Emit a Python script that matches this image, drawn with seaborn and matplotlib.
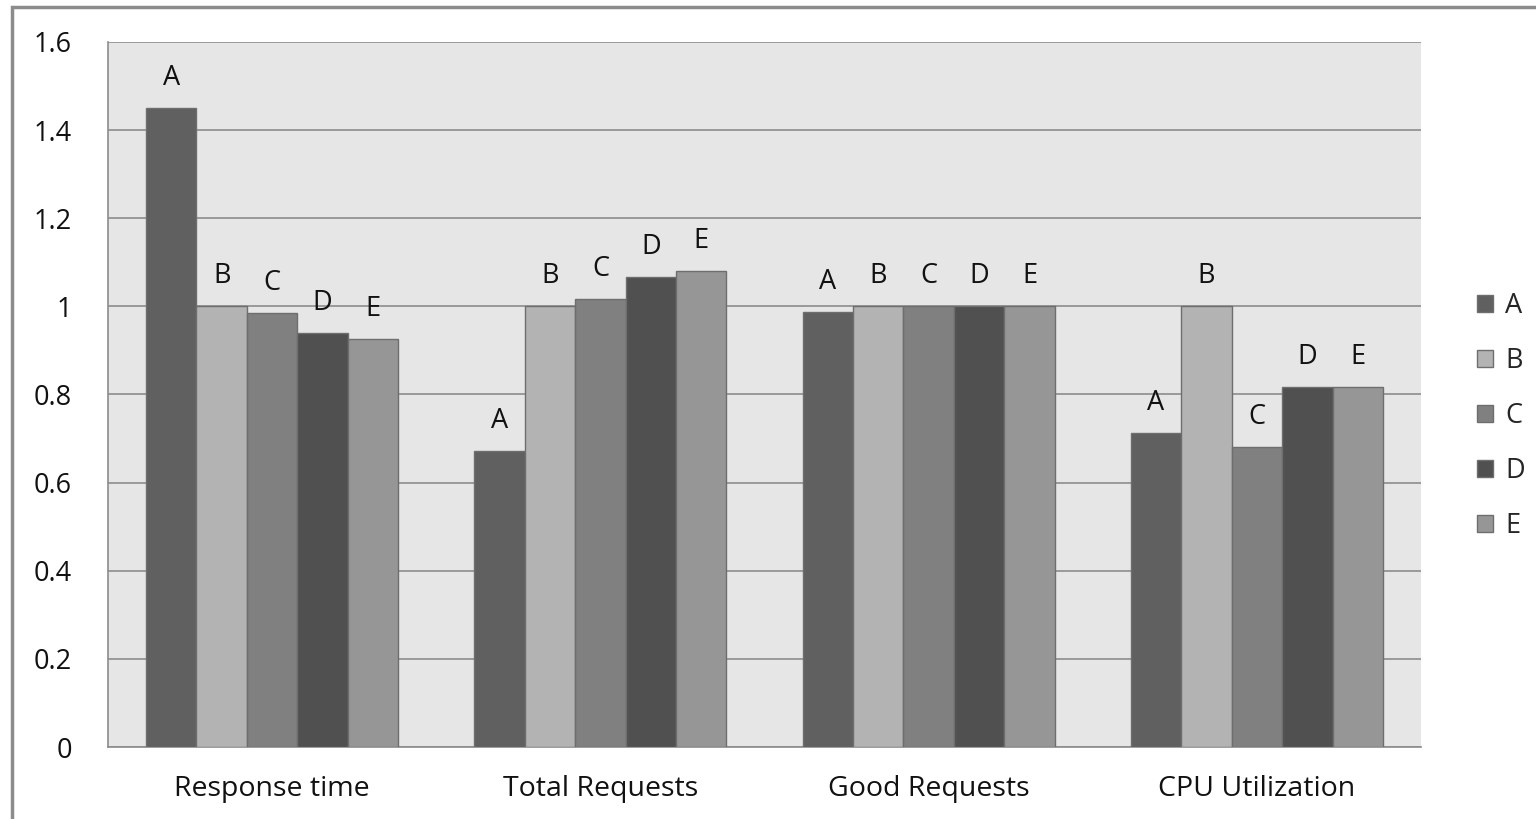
import matplotlib
matplotlib.use("Agg")
import matplotlib.pyplot as plt
import matplotlib.patches as mpatches
import seaborn as sns
import pandas as pd

# Normalised metrics per configuration
metrics = ["Response time", "Total Requests", "Good Requests", "CPU Utilization"]
series = ["A", "B", "C", "D", "E"]
values_A = [1.45, 0.672, 0.987, 0.713]
values_B = [1.0, 1.0, 1.0, 1.0]
values_C = [0.985, 1.017, 1.0, 0.681]
values_D = [0.94, 1.067, 1.0, 0.817]
values_E = [0.926, 1.080, 1.0, 0.817]
y_ticks = [0, 0.2, 0.4, 0.6, 0.8, 1.0, 1.2, 1.4, 1.6]
y_tick_labels = ["0", "0.2", "0.4", "0.6", "0.8", "1", "1.2", "1.4", "1.6"]

colors = ["#606060", "#b3b3b3", "#808080", "#505050", "#969696"]

rows = []
for name, vals in zip(series, [values_A, values_B, values_C, values_D, values_E]):
    for m, v in zip(metrics, vals):
        rows.append({"metric": m, "series": name, "value": v})
df = pd.DataFrame(rows)

sns.set_style("white")
plt.rcParams["font.family"] = ["Open Sans", "DejaVu Sans"]

FS = 19.5
fig = plt.figure(figsize=(15.36, 8.19), dpi=100)
ax = fig.add_axes([108 / 1536, 1 - 747 / 819, (1421 - 108) / 1536, (747 - 42) / 819])
ax.set_facecolor("#e6e6e6")

sns.barplot(data=df, x="metric", y="value", hue="series", order=metrics,
            hue_order=series, palette=colors, width=0.768, gap=0,
            edgecolor="#6e6e6e", linewidth=1.0, saturation=1, ax=ax,
            legend=False, zorder=3)

# series letter above each bar
for name, cont in zip(series, ax.containers):
    ax.bar_label(cont, labels=[name] * len(cont), padding=11.5, fontsize=FS,
                 color="#111111")

ax.set_ylim(0, 1.6)
ax.set_xlim(-0.5, 3.5)
ax.set_yticks(y_ticks)
ax.set_yticklabels(y_tick_labels, fontsize=FS, color="#111111")
ax.yaxis.grid(True, color="#8c8c8c", linewidth=1.2, zorder=0)
ax.set_axisbelow(True)
ax.set_xlabel("")
ax.set_ylabel("")
ax.tick_params(axis="x", which="major", length=0, labelsize=20.5, pad=20,
               labelcolor="#111111")
ax.set_xticks([-0.5, 0.5, 1.5, 2.5, 3.5], minor=True)
ax.tick_params(axis="x", which="minor", length=9, width=1.2, color="#8c8c8c",
               direction="out")
ax.tick_params(axis="y", length=10, width=1.2, color="#8c8c8c", direction="out",
               pad=16)
for side in ["top", "right"]:
    ax.spines[side].set_visible(False)
for side in ["left", "bottom"]:
    ax.spines[side].set_color("#8c8c8c")
    ax.spines[side].set_linewidth(1.2)

handles = [mpatches.Patch(facecolor=c, edgecolor="#6e6e6e", linewidth=1.0, label=s)
           for c, s in zip(colors, series)]
fig.legend(handles=handles, loc="upper left", bbox_to_anchor=(1466 / 1536, 1 - 281 / 819),
           frameon=False, fontsize=FS, handlelength=0.6, handleheight=0.6,
           handletextpad=0.45, labelspacing=1.0, borderaxespad=0)

# outer frame of the chart area
fig.patches.append(mpatches.Rectangle((12 / 1536, -0.02), 1.1, 1 - 7 / 819 + 0.02,
                                      transform=fig.transFigure, fill=False,
                                      edgecolor="#8c8c8c", linewidth=2.5))

fig.savefig("out.png", dpi=100, facecolor="white")
